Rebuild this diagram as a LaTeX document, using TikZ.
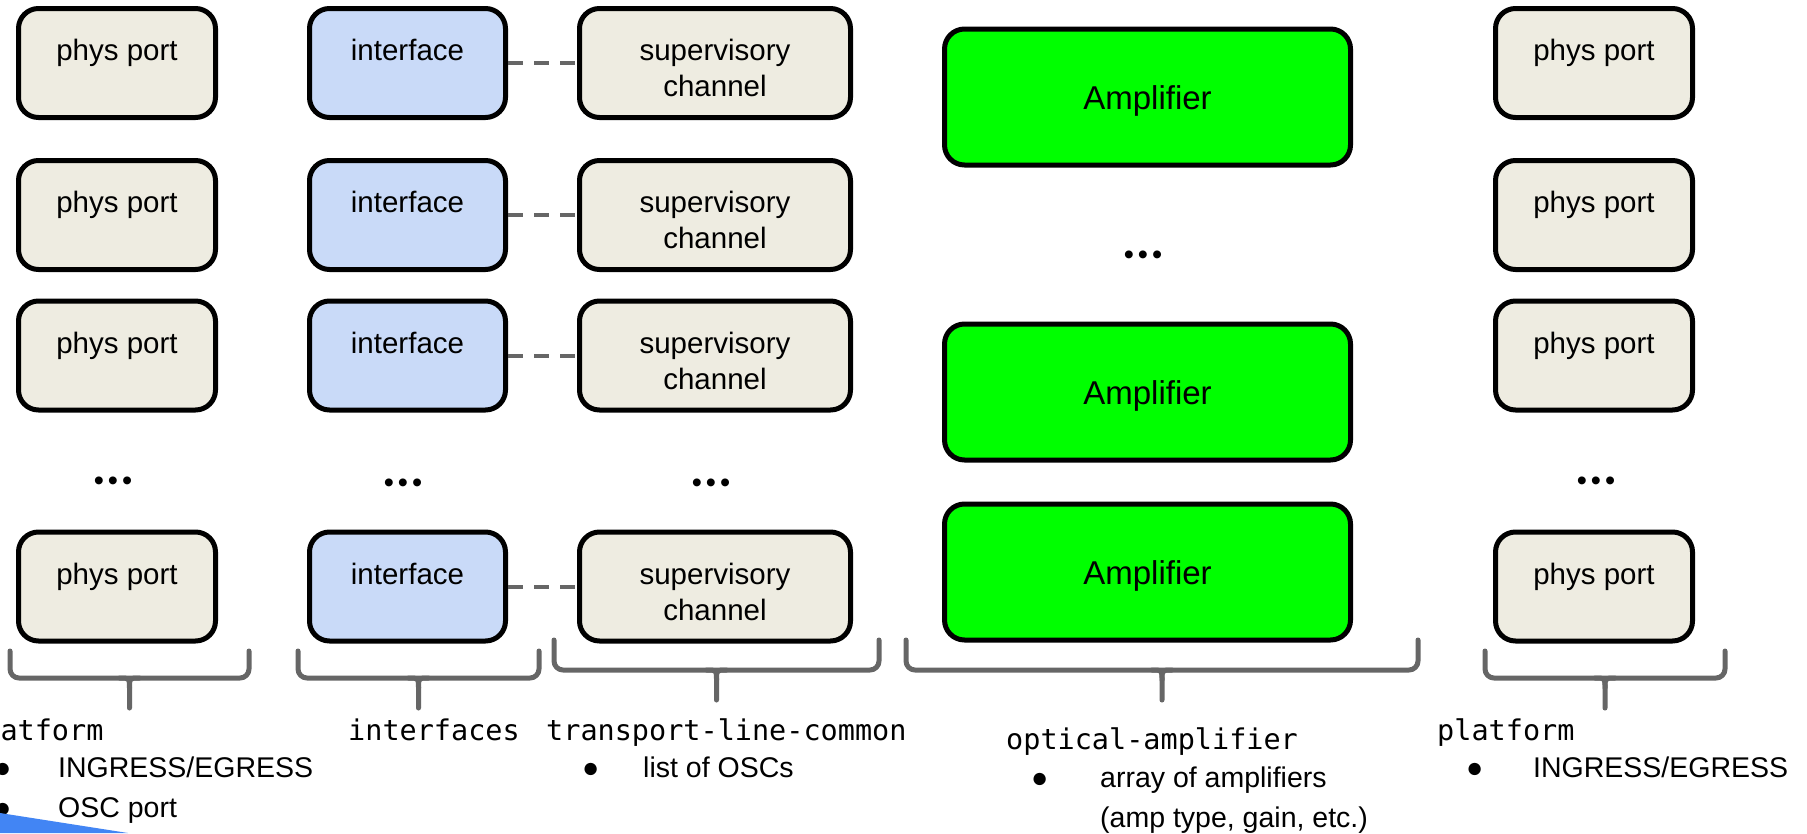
\documentclass[tikz,border=0pt]{standalone}
\usepackage{fontspec}
\setmainfont{Liberation Sans}
\setmonofont{DejaVu Sans Mono}

\definecolor{beige}{HTML}{EEECE1}
\definecolor{ifblue}{HTML}{C9DAF8}
\definecolor{ampgreen}{HTML}{00FF00}
\definecolor{linkgray}{HTML}{666666}
\definecolor{cornerblue}{HTML}{4285F4}

\begin{document}
\begin{tikzpicture}[x=1pt, y=-1pt, line cap=round, line join=round]

% ---------------- styles ----------------
\tikzset{
  blk/.style  ={draw, line width=5pt, rounded corners=20pt, inner sep=0pt,
                font=\fontsize{29.5}{36}\selectfont, align=center, minimum height=109pt},
  one/.style  ={blk, text height=52pt, text depth=57pt},
  two/.style  ={blk, text height=88pt, text depth=21pt},
  port/.style ={one, fill=beige, minimum width=197pt},
  iface/.style={one, fill=ifblue, minimum width=196pt},
  osc/.style  ={two, fill=beige, minimum width=271pt},
  amp/.style  ={blk, fill=ampgreen, minimum width=406pt, minimum height=136pt,
                font=\fontsize{33}{36}\selectfont, text height=80pt, text depth=56pt},
  link/.style ={draw=linkgray, line width=4pt, dash pattern=on 15pt off 11pt, line cap=butt},
  brace/.style={draw=linkgray, line width=5pt, rounded corners=9pt},
  more/.style ={font=\fontsize{29}{29}\selectfont},
  yang/.style ={font=\ttfamily\fontsize{28.5}{36}\selectfont, anchor=base west, inner sep=0pt},
  items/.style={font=\fontsize{28.5}{40}\selectfont, align=left, anchor=base west, inner sep=0pt}
}

% ---------------- parameters ----------------
\def\xPort{117}     % ingress phys ports
\def\xIf{407.5}     % interfaces
\def\xOsc{715}      % supervisory channels
\def\xAmp{1147.5}   % amplifiers
\def\xEg{1594}      % egress phys ports
\def\More{•\kern4pt•\kern4pt•}

% helper: curly bracket from x1 to x2 (top, horizontal, stem end)
\newcommand{\Brace}[5]{%
  \draw[brace] (#1,#3) -- (#1,#4) -- (#2,#4) -- (#2,#3);
  \draw[brace, rounded corners=0pt]
    ({(#1+#2)/2-10},#4) .. controls ({(#1+#2)/2},#4) .. ({(#1+#2)/2},#4+10)
    -- ({(#1+#2)/2},#5);
  \draw[brace, rounded corners=0pt]
    ({(#1+#2)/2+10},#4) .. controls ({(#1+#2)/2},#4) .. ({(#1+#2)/2},#4+10);
}

\path[fill=white] (0,0) rectangle (1807,833);
\useasboundingbox (0,0) rectangle (1807,833);

% ---------------- rows of boxes ----------------
\foreach \r/\y in {1/63, 2/215, 3/355.5, 4/586.5} {
  \node[port]  (port\r)  at (\xPort,\y) {phys port};
  \node[iface] (iface\r) at (\xIf,\y)   {interface};
  \node[osc]   (osc\r)   at (\xOsc,\y)  {supervisory\\channel};
  \node[port]  (eport\r) at (\xEg,\y)   {phys port};
  \draw[link] (iface\r.east) -- (osc\r.west);
}

\foreach \r/\y in {1/97, 2/392, 3/572}
  \node[amp] (amp\r) at (\xAmp,\y) {Amplifier};

% ---------------- ellipses ----------------
\node[more] (portMore)  at (113,484)  {\More};
\node[more] (ifMore)    at (403,486)  {\More};
\node[more] (oscMore)   at (711,486)  {\More};
\node[more] (ampMore)   at (1143,258) {\More};
\node[more] (eportMore) at (1596,484) {\More};

% ---------------- brackets ----------------
\Brace{10}{249}{651}{678}{708}
\Brace{298}{539}{651}{678}{708}
\Brace{554}{879}{640}{670}{700}
\Brace{906}{1418}{640}{670}{700}
\Brace{1485}{1725}{651}{678}{708}

% ---------------- module labels ----------------
\node[yang] (pfLabel)  at (-34,740)  {platform};
\node[yang] (ifLabel)  at (348,740)  {interfaces};
\node[yang] (oscLabel) at (546,740)  {transport-line-common};
\node[yang] (ampLabel) at (1006,749) {optical-amplifier};
\node[yang] (egLabel)  at (1437,740) {platform};

\node[items] (pfList)  at (-6,817)   {\makebox[64pt][l]{●}INGRESS/EGRESS\\\makebox[64pt][l]{●}OSC port};
\node[items] (oscList) at (582,777)  {\makebox[61pt][l]{●}list of OSCs};
\node[items] (ampList) at (1031,827) {\makebox[69pt][l]{●}array of amplifiers\\\hspace*{69pt}(amp type, gain, etc.)};
\node[items] (egList)  at (1466,777) {\makebox[67pt][l]{●}INGRESS/EGRESS};

% ---------------- slide corner ----------------
\fill[cornerblue] (0,813) -- (128,833) -- (0,833) -- cycle;

\end{tikzpicture}
\end{document}
